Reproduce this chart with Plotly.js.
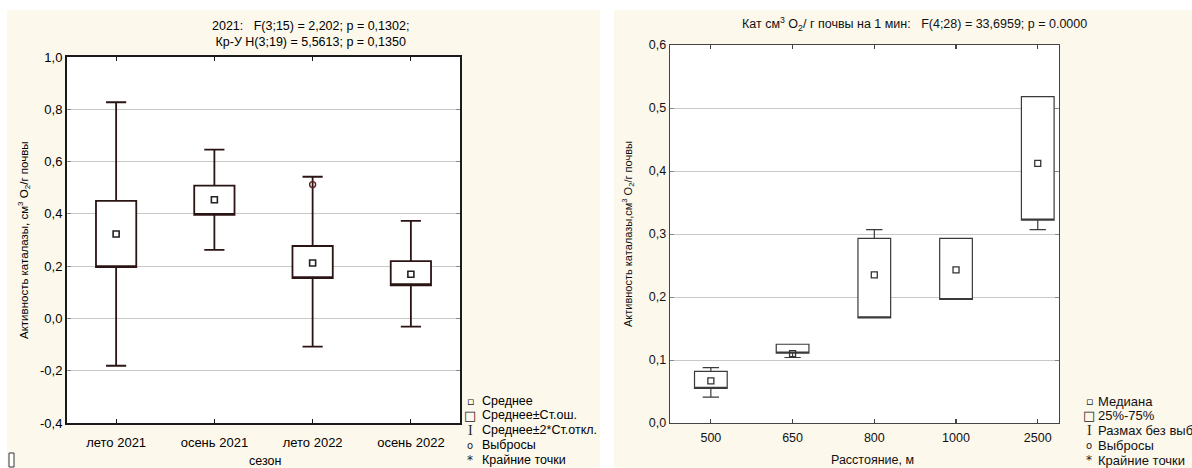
<!DOCTYPE html>
<html><head><meta charset="utf-8">
<script src="https://cdn.plot.ly/plotly-3.0.1.min.js"></script>
<style>html,body{margin:0;padding:0;background:#fff}#chart{width:1192px;height:468px}</style>
</head><body><div id="chart"></div>
<script>
// ---------- Left chart data (mean, ±SE box, ±2SD whiskers) ----------
const seasons = ['лето 2021', 'осень 2021', 'лето 2022', 'осень 2022'];
const seasonMean = [0.323, 0.454, 0.212, 0.169];
const seasonSeLow = [0.196, 0.396, 0.154, 0.127];
const seasonSeHigh = [0.450, 0.508, 0.277, 0.219];
const seasonSdLow = [-0.181, 0.262, -0.108, -0.031];
const seasonSdHigh = [0.827, 0.646, 0.542, 0.373];
const outlierSeason = ['лето 2022'];
const outlierValue = [0.512];
const leftYTicks = [-0.4, -0.2, 0, 0.2, 0.4, 0.6, 0.8, 1.0];
const leftYTickText = ['-0,4', '-0,2', '0,0', '0,2', '0,4', '0,6', '0,8', '1,0'];

// ---------- Right chart data (median, quartile box, range whiskers) ----------
const distances = ['500', '650', '800', '1000', '2500'];
const distMedian = [0.067, 0.110, 0.235, 0.243, 0.412];
const distQ1 = [0.055, 0.111, 0.167, 0.196, 0.322];
const distQ3 = [0.082, 0.125, 0.293, 0.293, 0.518];
const distMin = [0.041, 0.104, 0.167, 0.196, 0.307];
const distMax = [0.088, 0.125, 0.307, 0.293, 0.518];
const rightYTicks = [0, 0.1, 0.2, 0.3, 0.4, 0.5, 0.6];
const rightYTickText = ['0,0', '0,1', '0,2', '0,3', '0,4', '0,5', '0,6'];

// ---------- Texts ----------
const NB = '\u00a0';
const leftTitle = '2021:' + NB + NB + NB + 'F(3;15) = 2,202; p = 0,1302;<br>Кр-У H(3;19) = 5,5613; p = 0,1350';
const rightTitle = 'Кат см<sup>3</sup> O<sub>2</sub>/ г почвы на 1 мин:' + NB + NB + NB + 'F(4;28) = 33,6959; p = 0.0000';
const leftYTitle = 'Активность каталазы, см<sup>3</sup> O<sub>2</sub>/г почвы';
const rightYTitle = 'Активность каталазы,см<sup>3</sup> O<sub>2</sub>/г почвы';
const leftXTitle = 'сезон';
const rightXTitle = 'Расстояние, м';
const legendLeft = ['Среднее', 'Среднее±Ст.ош.', 'Среднее±2*Ст.откл.', 'Выбросы', 'Крайние точки'];
const legendRight = ['Медиана', '25%-75%', 'Размах без выбросов', 'Выбросы', 'Крайние точки'];
const legendSymbols = ['▫', '□', 'I', 'o', '*'];

// ---------- Styling ----------
const W = 1192, H = 468;
const px = v => v / W;
const py = v => 1 - v / H;
const FN = "'Liberation Sans Narrow', 'Arial Narrow', 'Liberation Sans', Arial, sans-serif";
const FR = "'Liberation Sans', Arial, sans-serif";
const CREAM = '#fdf8ec';
const GRID = '#c8c8c8';

const traces = [
  {
    type: 'box', x: seasons, q1: seasonSeLow, median: seasonSeLow, q3: seasonSeHigh,
    lowerfence: seasonSdLow, upperfence: seasonSdHigh, boxpoints: false,
    width: 0.41, whiskerwidth: 0.5, fillcolor: '#ffffff',
    line: {color: '#2a1414', width: 1.8}, xaxis: 'x', yaxis: 'y',
    hoverinfo: 'skip', showlegend: false
  },
  {
    type: 'scatter', mode: 'markers', x: seasons, y: seasonMean, xaxis: 'x', yaxis: 'y',
    marker: {symbol: 'square-open', size: 6, color: '#222', line: {width: 1.6, color: '#222'}},
    hoverinfo: 'skip', showlegend: false
  },
  {
    type: 'scatter', mode: 'markers', x: outlierSeason, y: outlierValue, xaxis: 'x', yaxis: 'y',
    marker: {symbol: 'circle-open', size: 6, color: '#5a1f1f', line: {width: 1.4, color: '#5a1f1f'}},
    hoverinfo: 'skip', showlegend: false
  },
  {
    type: 'box', x: distances, q1: distQ1, median: distQ1, q3: distQ3,
    lowerfence: distMin, upperfence: distMax, boxpoints: false,
    width: 0.40, whiskerwidth: 0.5, fillcolor: '#ffffff',
    line: {color: '#3a3a3a', width: 1.2}, xaxis: 'x2', yaxis: 'y2',
    hoverinfo: 'skip', showlegend: false
  },
  {
    type: 'scatter', mode: 'markers', x: distances, y: distMedian, xaxis: 'x2', yaxis: 'y2',
    marker: {symbol: 'square-open', size: 6, color: '#333', line: {width: 1.3, color: '#333'}},
    hoverinfo: 'skip', showlegend: false
  }
];

function axisX(domain, cats, range, font, lc, lw, standoff) {
  return {
    domain: domain, type: 'category', categoryorder: 'array', categoryarray: cats,
    range: range, showline: true, linecolor: lc, linewidth: lw, mirror: 'ticks',
    ticks: 'inside', ticklen: 4, tickcolor: lc, tickwidth: 1.2, ticklabelstandoff: standoff,
    showgrid: false, zeroline: false, tickfont: font, fixedrange: true
  };
}
function axisY(domain, range, vals, text, font, lc, lw) {
  return {
    domain: domain, range: range, tickmode: 'array', tickvals: vals, ticktext: text,
    showline: true, linecolor: lc, linewidth: lw, mirror: 'ticks',
    ticks: 'inside', ticklen: 4, tickcolor: '#888', tickwidth: 1,
    showgrid: true, gridcolor: GRID, gridwidth: 1, zeroline: false,
    tickfont: font, fixedrange: true
  };
}

const annotations = [
  {text: leftTitle, x: px(310), y: py(34), xref: 'paper', yref: 'paper', xanchor: 'center', yanchor: 'middle',
   showarrow: false, font: {family: FN, size: 12.5, color: '#000'}},
  {text: rightTitle, x: px(914), y: py(24), xref: 'paper', yref: 'paper', xanchor: 'center', yanchor: 'middle',
   showarrow: false, font: {family: FR, size: 12.5, color: '#111'}},
  {text: leftYTitle, textangle: -90, x: px(24), y: py(240), xref: 'paper', yref: 'paper', xanchor: 'center', yanchor: 'middle',
   showarrow: false, font: {family: FN, size: 11.5, color: '#000'}},
  {text: rightYTitle, textangle: -90, x: px(628), y: py(234), xref: 'paper', yref: 'paper', xanchor: 'center', yanchor: 'middle',
   showarrow: false, font: {family: FR, size: 11, color: '#111'}},
  {text: leftXTitle, x: px(265), y: py(461), xref: 'paper', yref: 'paper', xanchor: 'center', yanchor: 'middle',
   showarrow: false, font: {family: FN, size: 12.5, color: '#000'}},
  {text: rightXTitle, x: px(872), y: py(460), xref: 'paper', yref: 'paper', xanchor: 'center', yanchor: 'middle',
   showarrow: false, font: {family: FR, size: 12.5, color: '#111'}}
];

const symbolFonts = ['DejaVu Sans', 'DejaVu Sans', 'Liberation Serif', 'DejaVu Sans', 'DejaVu Sans'];
const symbolSizes = [11, 13, 14, 10, 12];
const rowY = [401, 415, 430, 445, 460];
legendLeft.forEach((t, i) => {
  annotations.push({text: legendSymbols[i], x: px(470), y: py(rowY[i]), xref: 'paper', yref: 'paper',
    xanchor: 'center', yanchor: 'middle', showarrow: false,
    font: {family: symbolFonts[i], size: symbolSizes[i], color: '#222'}});
  annotations.push({text: t, x: px(480), y: py(rowY[i]), xref: 'paper', yref: 'paper',
    xanchor: 'left', yanchor: 'middle', showarrow: false,
    font: {family: FN, size: 12.5, color: '#000'}});
});
legendRight.forEach((t, i) => {
  annotations.push({text: legendSymbols[i], x: px(1089), y: py(rowY[i]), xref: 'paper', yref: 'paper',
    xanchor: 'center', yanchor: 'middle', showarrow: false,
    font: {family: symbolFonts[i], size: symbolSizes[i], color: '#222'}});
  annotations.push({text: t, x: px(1096), y: py(rowY[i]), xref: 'paper', yref: 'paper',
    xanchor: 'left', yanchor: 'middle', showarrow: false,
    font: {family: FR, size: 13, color: '#111'}});
});

const shapes = [
  {type: 'rect', xref: 'paper', yref: 'paper', x0: px(7), x1: px(600), y0: 0, y1: py(10),
   fillcolor: CREAM, line: {width: 0}, layer: 'below'},
  {type: 'rect', xref: 'paper', yref: 'paper', x0: px(614), x1: 1, y0: 0, y1: py(10),
   fillcolor: CREAM, line: {width: 0}, layer: 'below'},
  {type: 'rect', xref: 'x domain', yref: 'y domain', x0: 0, x1: 1, y0: 0, y1: 1,
   fillcolor: '#ffffff', line: {width: 0}, layer: 'below'},
  {type: 'rect', xref: 'x2 domain', yref: 'y2 domain', x0: 0, x1: 1, y0: 0, y1: 1,
   fillcolor: '#ffffff', line: {width: 0}, layer: 'below'},
  {type: 'rect', xref: 'paper', yref: 'paper', x0: px(9), x1: px(14), y0: py(467), y1: py(453),
   fillcolor: '#ffffff', line: {width: 1, color: '#333'}, layer: 'above'}
];

const layout = {
  width: W, height: H, margin: {l: 0, r: 0, t: 0, b: 0},
  paper_bgcolor: '#ffffff', plot_bgcolor: '#ffffff',
  showlegend: false, separators: ', ',
  xaxis: axisX([px(67), px(460)], seasons, [-0.5, 3.5], {family: FN, size: 13, color: '#000'}, '#1a1a1a', 2, 6),
  yaxis: axisY([py(423), py(57)], [-0.4, 1.0], leftYTicks, leftYTickText, {family: FN, size: 13, color: '#000'}, '#1a1a1a', 2),
  xaxis2: axisX([px(670), px(1059)], distances, [-0.5, 4.26], {family: FR, size: 12.5, color: '#111'}, '#444', 1.3, 3),
  yaxis2: axisY([py(423), py(45)], [0, 0.6], rightYTicks, rightYTickText, {family: FR, size: 12.5, color: '#111'}, '#444', 1.3),
  annotations: annotations, shapes: shapes
};
layout.xaxis.anchor = 'y'; layout.yaxis.anchor = 'x';
layout.xaxis2.anchor = 'y2'; layout.yaxis2.anchor = 'x2';

Plotly.newPlot('chart', traces, layout, {staticPlot: true, displayModeBar: false});
</script>
</body></html>
